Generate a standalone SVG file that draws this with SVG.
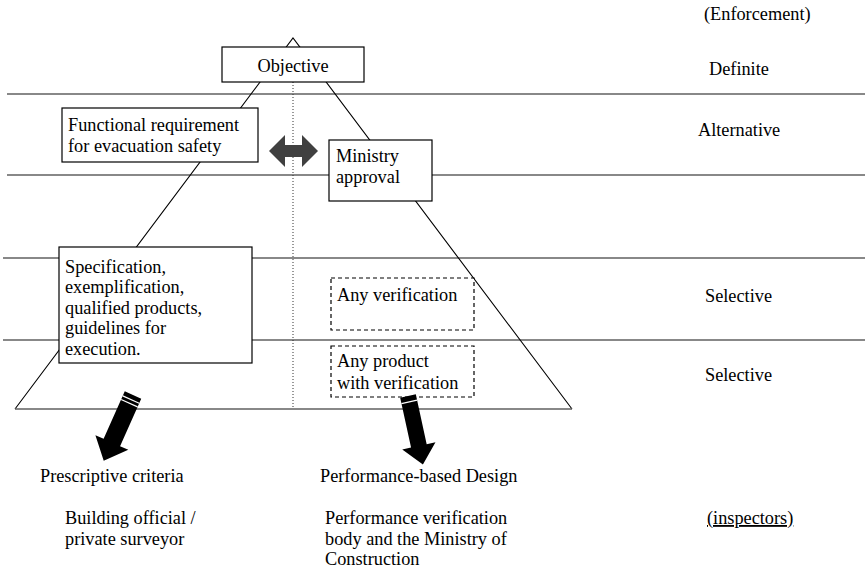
<svg xmlns="http://www.w3.org/2000/svg" width="865" height="569" viewBox="0 0 865 569">
<style>
text{font-family:"Liberation Serif","Times New Roman",serif;font-size:18.3px;fill:#000}
.band{stroke:#606060;stroke-width:1.6;fill:none}
.tri{stroke:#000;stroke-width:1.1;fill:none}
.box{fill:#fff;stroke:#000;stroke-width:1.2}
.dbox{fill:#fff;stroke:#000;stroke-width:1.2;stroke-dasharray:4 3}
.fat{fill:#000}
.stripe{stroke:#fff;stroke-width:1.2}
</style>
<rect width="865" height="569" fill="#fff"/>
<g id="background">
<line class="band" x1="7" y1="94" x2="865" y2="94"/>
<line class="band" x1="7" y1="175" x2="865" y2="175"/>
<line class="band" x1="3" y1="258" x2="865" y2="258"/>
<line class="band" x1="3" y1="340" x2="865" y2="340"/>
<polyline class="tri" points="15,409 293,38 572,409"/>
<line class="band" x1="15" y1="409" x2="572" y2="409"/>
<line x1="293" y1="82" x2="293" y2="409" stroke="#333" stroke-width="1" stroke-dasharray="1 2"/>
</g>
<g id="objective"><rect class="box" x="222" y="47" width="142" height="35"/><text x="293" y="72" text-anchor="middle">Objective</text></g>
<g id="functional"><rect class="box" x="62" y="108" width="196" height="54"/><text x="68" y="131">Functional requirement</text><text x="68" y="152">for evacuation safety</text></g>
<g id="ministry"><rect class="box" x="329" y="140" width="103" height="61"/><text x="336" y="162">Ministry</text><text x="336" y="183">approval</text></g>
<g id="specification"><rect class="box" x="59" y="247" width="193" height="116"/><text x="65" y="273">Specification,</text><text x="65" y="293">exemplification,</text><text x="65" y="314">qualified products,</text><text x="65" y="334">guidelines for</text><text x="65" y="355">execution.</text></g>
<g id="any-verification"><rect class="dbox" x="331" y="278" width="143" height="52"/><text x="337" y="301">Any verification</text></g>
<g id="any-product"><rect class="dbox" x="331" y="346" width="143" height="51"/><text x="337" y="367">Any product</text><text x="337" y="389">with verification</text></g>
<g id="labels">
<text x="704" y="20">(Enforcement)</text>
<text x="709" y="75">Definite</text>
<text x="698" y="136">Alternative</text>
<text x="705" y="302">Selective</text>
<text x="705" y="381">Selective</text>
<text x="40" y="482">Prescriptive criteria</text>
<text x="320" y="482">Performance-based Design</text>
<text x="65" y="524">Building official /</text>
<text x="65" y="545">private surveyor</text>
<text x="325" y="524">Performance verification</text>
<text x="325" y="545">body and the Ministry of</text>
<text x="325" y="565">Construction</text>
<text x="707" y="524" text-decoration="underline">(inspectors)</text>
</g>
<g id="connectors">
<polygon points="269,151 285,135 285,145 302,145 302,135 318,151 302,167 302,157 285,157 285,167" fill="#404040"/>
<g transform="translate(133,395) rotate(24)"><polygon class="fat" points="-9,0 9,0 9,52 18,52 0,72 -18,52 -9,52"/><line class="stripe" x1="-9" y1="5" x2="9" y2="5"/><line class="stripe" x1="-9" y1="9" x2="9" y2="9"/></g>
<g transform="translate(408,396) rotate(-12.3)"><polygon class="fat" points="-8,0 8,0 8,51 17,51 0,70 -17,51 -8,51"/><line class="stripe" x1="-8" y1="6" x2="8" y2="6"/></g>
</g>
</svg>
